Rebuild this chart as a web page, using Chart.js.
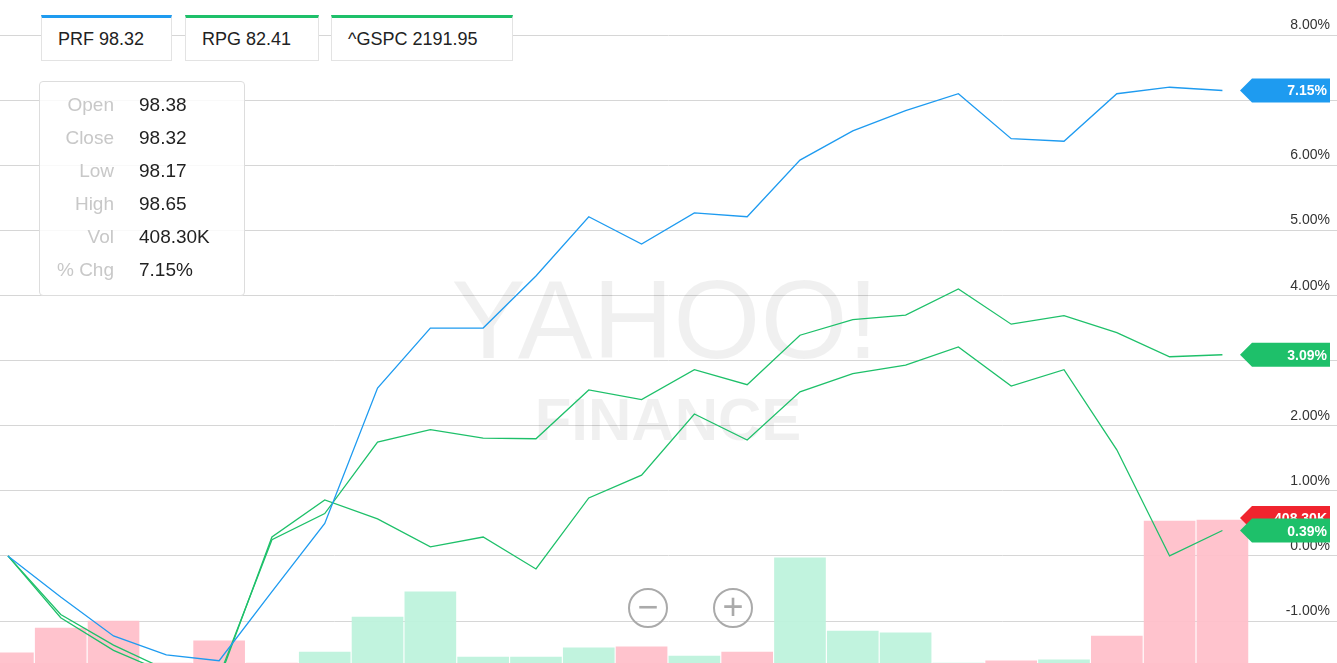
<!DOCTYPE html>
<html>
<head>
<meta charset="utf-8">
<script src="https://cdn.jsdelivr.net/npm/chart.js@4"></script>
<style>
  body { margin: 0; background: #fff; font-family: "Liberation Sans", Arial, sans-serif; }
  #wrap { position: relative; width: 1337px; height: 663px; overflow: hidden; }
  .leg { position: absolute; top: 15px; height: 46px; border: 1px solid #e3e3e3; border-top-width: 3px;
         box-sizing: border-box; font-size: 18px; color: #222; line-height: 42px; padding-left: 16px; background: #fff; }
  #info { position: absolute; left: 39px; top: 81px; width: 206px; height: 215px; border: 1px solid #ddd;
          border-radius: 4px; box-sizing: border-box; background: rgba(255,255,255,0.85); font-size: 19px; }
  #info div { height: 33px; line-height: 33px; position: relative; top: 6px; }
  #info span.k { display: inline-block; width: 74px; text-align: right; color: #c8c8c8; }
  #info span.v { margin-left: 25px; color: #222; }
  .btn { position: absolute; top: 588px; width: 40px; height: 40px; border: 2px solid #aaa; border-radius: 50%;
         box-sizing: border-box; color: #aaa; font-size: 36px; line-height: 34px; text-align: center; }
</style>
</head>
<body>
<div id="wrap">
  <canvas id="c" width="1337" height="663"></canvas>
  <div class="leg" style="left:41px;width:131px;border-top-color:#1e9bf0">PRF 98.32</div>
  <div class="leg" style="left:185px;width:134px;border-top-color:#1ec06a">RPG 82.41</div>
  <div class="leg" style="left:331px;width:182px;border-top-color:#1ec06a">^GSPC 2191.95</div>
  <div id="info"></div>
  <div class="btn" style="left:628px">&minus;</div>
  <div class="btn" style="left:713px">+</div>
</div>
<script>
const prf = [0, -0.63, -1.23, -1.52, -1.61, -0.55, 0.5, 2.58, 3.5, 3.5, 4.3, 5.21, 4.79, 5.27, 5.21, 6.08, 6.53, 6.84, 7.1, 6.41, 6.37, 7.1, 7.2, 7.15];
const rpg = [0, -0.9, -1.37, -1.75, -1.85, 0.25, 0.65, 1.75, 1.94, 1.81, 1.8, 2.55, 2.4, 2.86, 2.63, 3.39, 3.63, 3.7, 4.1, 3.56, 3.69, 3.43, 3.06, 3.09];
const gspc = [0, -0.95, -1.45, -1.8, -1.9, 0.29, 0.86, 0.57, 0.14, 0.29, -0.2, 0.89, 1.24, 2.18, 1.78, 2.52, 2.8, 2.93, 3.21, 2.61, 2.86, 1.63, 0.0, 0.39];
const volume = [29, 100, 120, 0, 63, 0, 31, 131, 203, 17, 17, 43, 46, 20, 31, 300, 91, 86, 0, 6, 9, 77, 405, 408.3];
const volUp = [0, 0, 0, 0, 0, 0, 1, 1, 1, 1, 1, 1, 0, 1, 0, 1, 1, 1, 1, 0, 1, 0, 0, 0];
const yTicks = [8, 6, 5, 4, 2, 1, 0, -1];
const infoKeys = ['Open', 'Close', 'Low', 'High', 'Vol', '% Chg'];
const infoVals = ['98.38', '98.32', '98.17', '98.65', '408.30K', '7.15%'];

document.getElementById('info').innerHTML = infoKeys.map((k, i) =>
  `<div><span class="k">${k}</span><span class="v">${infoVals[i]}</span></div>`).join('');

const pts = arr => arr.map((v, i) => ({x: i, y: v}));

const overlay = {
  id: 'overlay',
  beforeDatasetsDraw(chart) {
    const c = chart.ctx;
    c.save();
    c.font = '112px "Liberation Sans", sans-serif';
    c.fillStyle = 'rgba(0,0,0,0.06)';
    c.textAlign = 'center';
    c.fillText('YAHOO!', 665, 358);
    c.font = 'bold 60px "Liberation Sans", sans-serif';
    c.fillText('FINANCE', 668, 440);
    c.restore();
  },
  afterDatasetsDraw(chart) {
    const c = chart.ctx, y = chart.scales.y, v = chart.scales.v;
    c.save();
    c.font = '14px "Liberation Sans", sans-serif';
    c.fillStyle = '#333';
    c.textAlign = 'right';
    yTicks.forEach(t => c.fillText(t.toFixed(2) + '%', 1330, y.getPixelForValue(t) - 6));
    const badge = (py, color, text) => {
      c.fillStyle = color;
      c.beginPath();
      c.moveTo(1240, py);
      c.lineTo(1252, py - 12);
      c.lineTo(1330, py - 12);
      c.lineTo(1330, py + 12);
      c.lineTo(1252, py + 12);
      c.closePath();
      c.fill();
      c.fillStyle = '#fff';
      c.font = 'bold 14px "Liberation Sans", sans-serif';
      c.fillText(text, 1327, py + 5);
    };
    badge(v.getPixelForValue(volume[23]) - 2, '#f0242e', '408.30K');
    badge(y.getPixelForValue(prf[23]), '#1e9bf0', prf[23].toFixed(2) + '%');
    badge(y.getPixelForValue(rpg[23]), '#1ec06a', rpg[23].toFixed(2) + '%');
    badge(y.getPixelForValue(gspc[23]), '#1ec06a', gspc[23].toFixed(2) + '%');
    c.restore();
  }
};

new Chart(document.getElementById('c'), {
  type: 'bar',
  data: {
    datasets: [
      { type: 'line', data: pts(prf), borderColor: '#1e9bf0', borderWidth: 1.3, pointRadius: 0, tension: 0, yAxisID: 'y' },
      { type: 'line', data: pts(rpg), borderColor: '#1ec06a', borderWidth: 1.3, pointRadius: 0, tension: 0, yAxisID: 'y' },
      { type: 'line', data: pts(gspc), borderColor: '#1ec06a', borderWidth: 1.3, pointRadius: 0, tension: 0, yAxisID: 'y' },
      { data: pts(volume), yAxisID: 'v', barThickness: 51,
        backgroundColor: volUp.map(u => u ? 'rgba(190,242,220,0.95)' : 'rgba(255,192,202,0.95)') }
    ]
  },
  options: {
    responsive: false,
    animation: false,
    layout: { padding: 0 },
    plugins: { legend: { display: false }, tooltip: { enabled: false } },
    scales: {
      x: { type: 'linear', offset: false, min: -0.15, max: 25.17, display: false },
      y: { min: -1.645, max: 8.54, position: 'right',
           afterBuildTicks: s => { s.ticks = [-1,0,1,2,3,4,5,6,7,8].map(v => ({value: v})); },
           ticks: { display: false }, border: { display: false },
           grid: { color: '#d6d6d6', drawTicks: false } },
      v: { min: 0, max: 1893, display: false }
    }
  },
  plugins: [overlay]
});
</script>
</body>
</html>
